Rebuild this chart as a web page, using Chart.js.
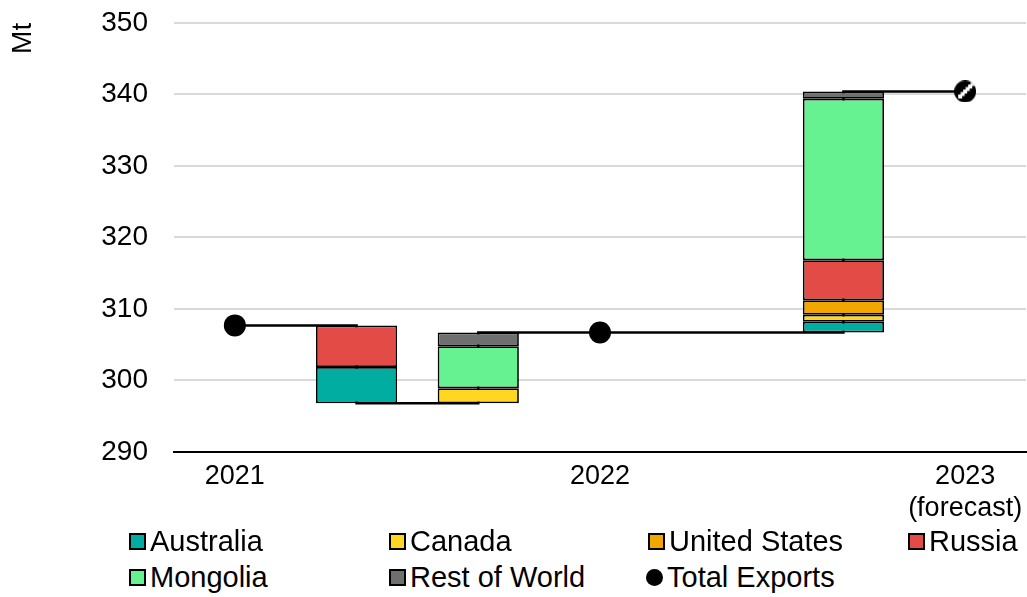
<!DOCTYPE html>
<html>
<head>
<meta charset="utf-8">
<script src="https://cdn.jsdelivr.net/npm/chart.js@4"></script>
<style>
  html, body { margin: 0; padding: 0; background: #fff; }
  body { width: 1027px; height: 597px; position: relative; overflow: hidden; font-family: 'Liberation Sans', Arial, sans-serif; }
  #wrap { position: absolute; left: 0; top: -20px; width: 1037px; height: 546px; }
  .leg { position: absolute; font-size: 29px; color: #000; line-height: 36px; white-space: nowrap; }
  .leg i { display: inline-block; width: 13px; height: 13px; border: 2px solid #000; margin-right: 4px; vertical-align: 1px; }
  .leg i.dot { border: none; width: 17px; height: 17px; border-radius: 50%; background: #000; }
</style>
</head>
<body>
<div id="wrap"><canvas id="chart"></canvas></div>
<div id="legend"></div>
<script>
// categories along the x axis (blank slots hold the change bars)
const categories = ['2021', '', '', '2022', '', '', ['2023', '(forecast)']];

// total exports, Mt
const totals = [307.7, null, null, 306.7, null, null, 340.4];

// floating ranges [from, to] for each country's contribution
const australia = [null, [296.8, 301.9], null, null, null, [306.7, 308.2], null];
const canada    = [null, null, [296.8, 298.9], null, null, [308.2, 309.2], null];
const usa       = [null, null, null, null, null, [309.2, 311.2], null];
const russia    = [null, [301.9, 307.7], null, null, null, [311.2, 316.8], null];
const mongolia  = [null, null, [298.9, 304.8], null, null, [316.8, 339.4], null];
const restWorld = [null, null, [304.8, 306.7], null, null, [339.4, 340.4], null];

const countries = [
  { label: 'Australia', data: australia, color: '#00ADA0' },
  { label: 'Canada', data: canada, color: '#FFD620' },
  { label: 'United States', data: usa, color: '#F0A800' },
  { label: 'Russia', data: russia, color: '#E34B47' },
  { label: 'Mongolia', data: mongolia, color: '#66F290' },
  { label: 'Rest of World', data: restWorld, color: '#6E706E' }
];

// connector level carried from column to column
const connector = [];
let level = null;
categories.forEach((c, i) => {
  if (totals[i] != null) {
    level = totals[i];
  } else {
    const ranges = countries.map(s => s.data[i]).filter(r => r);
    if (ranges.length) {
      const lo = Math.min(...ranges.map(r => r[0]));
      const hi = Math.max(...ranges.map(r => r[1]));
      level = Math.abs(level - hi) < Math.abs(level - lo) ? lo : hi;
    }
  }
  connector.push(level);
});

// marker for the forecast point: black dot with a white diagonal band
function forecastMarker() {
  const c = document.createElement('canvas');
  c.width = 22; c.height = 22;
  const g = c.getContext('2d');
  g.fillStyle = '#000';
  g.beginPath();
  g.arc(11, 11, 11, 0, Math.PI * 2);
  g.fill();
  g.save();
  g.clip();
  g.fillStyle = '#fff';
  // staircase band from lower left to upper right
  for (let k = 0; k < 6; k++) {
    g.fillRect(4 + k * 2.5, 14 - k * 2.5, 4, 4);
  }
  g.restore();
  return c;
}
const marker = forecastMarker();
const dotStyles = categories.map((c, i) => i === categories.length - 1 ? marker : 'circle');

const family = "'Liberation Sans', Arial, sans-serif";

const datasets = countries.map(s => ({
  type: 'bar',
  label: s.label,
  data: s.data,
  backgroundColor: s.color,
  borderColor: '#000',
  borderWidth: 1.75,
  borderSkipped: false,
  grouped: false,
  categoryPercentage: 1,
  barPercentage: 0.667,
  order: 1
}));

datasets.push({
  type: 'line',
  label: 'connector',
  data: connector,
  stepped: 'before',
  borderColor: '#000',
  borderWidth: 2.5,
  pointRadius: 0,
  fill: false,
  order: 3
});

datasets.push({
  type: 'line',
  label: 'Total Exports',
  data: totals,
  showLine: false,
  pointStyle: dotStyles,
  pointRadius: 11,
  pointHoverRadius: 11,
  pointBorderWidth: 0,
  pointBackgroundColor: '#000',
  pointBorderColor: '#000',
  order: 0
});

new Chart(document.getElementById('chart'), {
  data: { labels: categories, datasets },
  options: {
    responsive: true,
    maintainAspectRatio: false,
    animation: false,
    layout: { padding: { top: 8, right: 0, left: 0, bottom: 0 } },
    plugins: { legend: { display: false }, tooltip: { enabled: false } },
    scales: {
      x: {
        grid: { display: false, drawTicks: false },
        border: { color: '#000', width: 2 },
        ticks: { color: '#000', font: { family, size: 27 }, padding: 8, maxRotation: 0, autoSkip: false },
        afterFit: scale => { scale.height = 74; }
      },
      y: {
        min: 290,
        max: 350,
        ticks: { stepSize: 10, color: '#000', font: { family, size: 28 }, padding: 26 },
        grid: { color: '#D9D9D9', lineWidth: 2, drawTicks: false },
        border: { display: false },
        title: { display: true, text: 'Mt', align: 'end', color: '#000', font: { family, size: 28 }, padding: { top: 6, bottom: 0 } },
        afterFit: scale => { scale.width = 174; }
      }
    }
  }
});

// legend laid out in four columns, two rows
const legendItems = [
  { label: 'Australia', color: '#00ADA0', x: 129, y: 523 },
  { label: 'Canada', color: '#FFD620', x: 389, y: 523 },
  { label: 'United States', color: '#F0A800', x: 648, y: 523 },
  { label: 'Russia', color: '#E34B47', x: 908, y: 523 },
  { label: 'Mongolia', color: '#66F290', x: 129, y: 559 },
  { label: 'Rest of World', color: '#6E706E', x: 389, y: 559 },
  { label: 'Total Exports', dot: true, x: 646, y: 559 }
];
const legend = document.getElementById('legend');
legendItems.forEach(it => {
  const d = document.createElement('div');
  d.className = 'leg';
  d.style.left = it.x + 'px';
  d.style.top = it.y + 'px';
  d.innerHTML = it.dot
    ? `<i class="dot"></i>${it.label}`
    : `<i style="background:${it.color}"></i>${it.label}`;
  legend.appendChild(d);
});
</script>
</body>
</html>
